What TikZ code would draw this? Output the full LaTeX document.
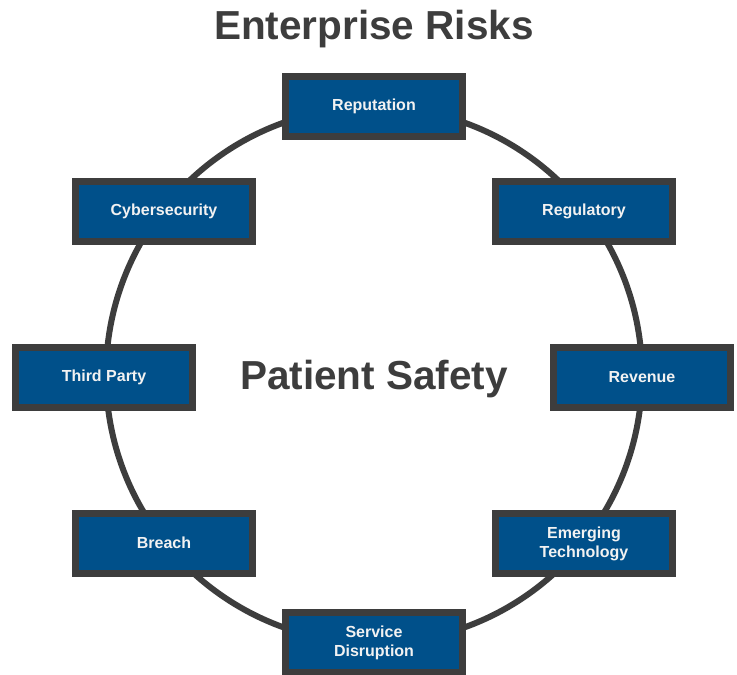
\documentclass[tikz,border=0pt]{standalone}
\usepackage{fontspec}
\setmainfont{Liberation Sans}
\definecolor{boxblue}{HTML}{00508A}
\definecolor{darkgray}{HTML}{3D3D3D}
\definecolor{textwhite}{HTML}{F2F2F2}
\begin{document}
\begin{tikzpicture}[x=1pt,y=-1pt,
  riskbox/.style={draw=darkgray, line width=7pt, fill=boxblue, minimum width=177pt, minimum height=60pt,
    text=textwhite, font=\bfseries\fontsize{16}{19}\selectfont, align=center, inner sep=0pt},
  bigtext/.style={text=darkgray, font=\bfseries\fontsize{40.5}{46}\selectfont}]
\useasboundingbox (0,0) rectangle (737,675);
\fill[white] (0,0) rectangle (737,675);
\node[bigtext] (title) at (374,29) {Enterprise Risks};
\coordinate (c) at (374,375);
\draw[darkgray, line width=6pt] (c) circle (268pt);
\node[bigtext] (center) at (374,379) {Patient Safety};
\node[riskbox] (rep) at (374,106.5) {Reputation};
\node[riskbox] (cyb) at (164,211.5) {Cybersecurity};
\node[riskbox] (reg) at (584,211.5) {Regulatory};
\node[riskbox] (tp) at (104,377.5) {Third Party};
\node[riskbox] (rev) at (642,377.5) {Revenue};
\node[riskbox] (br) at (164,543) {Breach};
\node[riskbox] (et) at (584,543.5) {Emerging\\Technology};
\node[riskbox] (sd) at (374,642.5) {Service\\Disruption};
\end{tikzpicture}
\end{document}
